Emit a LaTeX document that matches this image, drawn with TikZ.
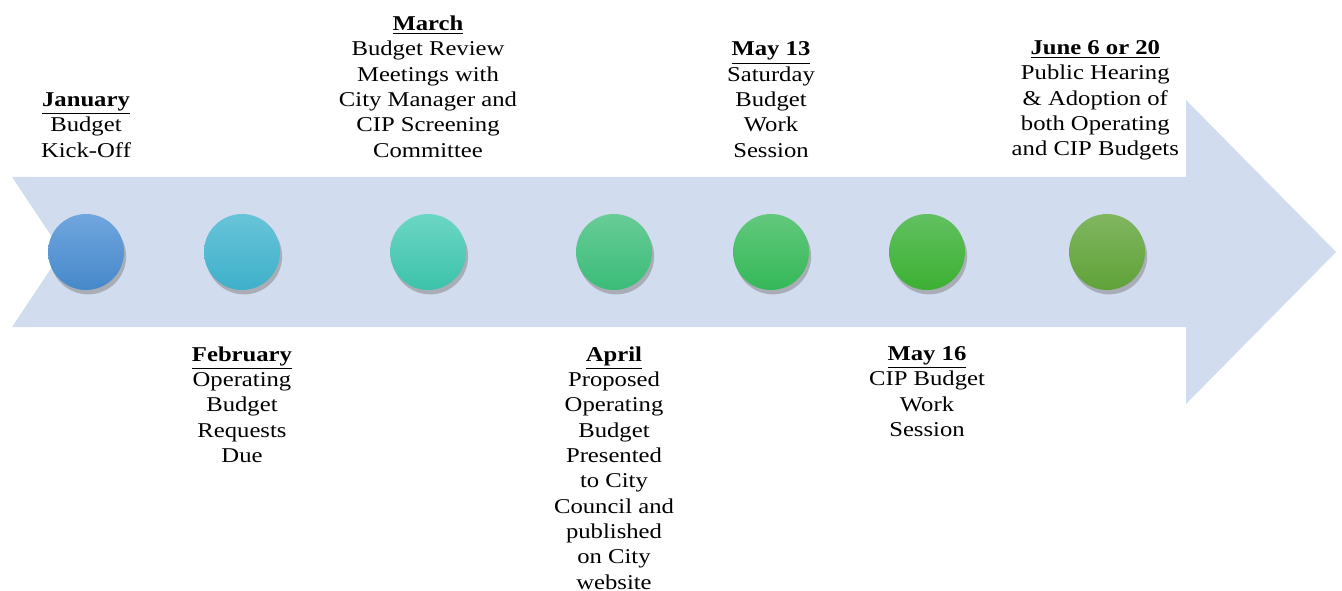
\documentclass[tikz,border=0pt]{standalone}
\usepackage{fontspec}
\setmainfont{Liberation Serif}
\usepackage{tikz}
\usetikzlibrary{positioning, shadows}
\definecolor{arrowfill}{RGB}{209,220,238}
\definecolor{janTop}{RGB}{112,166,222}
\definecolor{janBot}{RGB}{70,136,202}
\definecolor{febTop}{RGB}{104,196,216}
\definecolor{febBot}{RGB}{62,176,202}
\definecolor{marTop}{RGB}{108,214,196}
\definecolor{marBot}{RGB}{60,194,170}
\definecolor{aprTop}{RGB}{104,204,150}
\definecolor{aprBot}{RGB}{58,188,120}
\definecolor{mayaTop}{RGB}{98,200,124}
\definecolor{mayaBot}{RGB}{52,184,88}
\definecolor{maybTop}{RGB}{98,192,96}
\definecolor{maybBot}{RGB}{60,176,50}
\definecolor{junTop}{RGB}{128,182,96}
\definecolor{junBot}{RGB}{96,162,56}

\begin{document}
\begin{tikzpicture}[
    x=0.02cm, y=-0.02cm,
    node distance=1.12cm,
    dot/.style={circle,minimum size=1.52cm,inner sep=0pt,
        drop shadow={shadow xshift=1.2pt,shadow yshift=-2.5pt,opacity=0.5}},
    note/.style={align=center,inner sep=0pt,font=\fontsize{12}{14.4}\selectfont,
        xscale=1.17,transform shape}
]
\useasboundingbox (0,0) rectangle (1342,591);

% Timeline arrow
\fill[arrowfill] (12,177) -- (1186,177) -- (1186,100) -- (1336,252) -- (1186,404)
    -- (1186,327) -- (12,327) -- (62,252) -- cycle;

% Milestones
\node[dot,top color=janTop,bottom color=janBot] (jan) at (86,252) {};
\node[dot,top color=febTop,bottom color=febBot] (feb) at (242,252) {};
\node[dot,top color=marTop,bottom color=marBot] (mar) at (428,252) {};
\node[dot,top color=aprTop,bottom color=aprBot] (apr) at (614,252) {};
\node[dot,top color=mayaTop,bottom color=mayaBot] (mayA) at (771,252) {};
\node[dot,top color=maybTop,bottom color=maybBot] (mayB) at (927,252) {};
\node[dot,top color=junTop,bottom color=junBot] (jun) at (1107,252) {};

% Labels above
\node[note,above=of jan] (janText) {\underline{\textbf{January}}\\Budget\\Kick-Off};
\node[note,above=of mar] (marText) {\underline{\textbf{March}}\\Budget Review\\Meetings with\\City Manager and\\CIP Screening\\Committee};
\node[note,above=of mayA] (mayAText) {\underline{\textbf{May 13}}\\Saturday\\Budget\\Work\\Session};
\node[note,above=1.06cm of jun,xshift=-0.2cm] (junText) {\underline{\textbf{June 6 or 20}}\\Public Hearing\\\& Adoption of\\both Operating\\and CIP Budgets};

% Labels below
\node[note,below=of feb] (febText) {\underline{\textbf{February}}\\Operating\\Budget\\Requests\\Due};
\node[note,below=of apr] (aprText) {\underline{\textbf{April}}\\Proposed\\Operating\\Budget\\Presented\\to City\\Council and\\published\\on City\\website};
\node[note,below=of mayB] (mayBText) {\underline{\textbf{May 16}}\\CIP Budget\\Work\\Session};

\end{tikzpicture}
\end{document}
